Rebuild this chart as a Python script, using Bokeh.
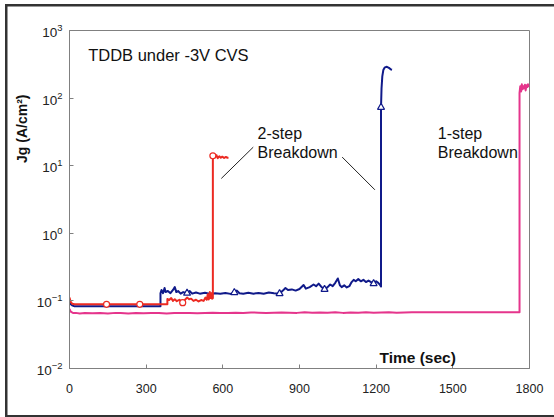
from bokeh.plotting import figure
from bokeh.models import Range1d, Label, Title
from bokeh.embed import file_html
from bokeh.resources import INLINE

# ---------------- data ----------------
x_ticks = [0, 300, 600, 900, 1200, 1500, 1800]
y_ticks = [0.01, 0.1, 1, 10, 100, 1000]

red_t = [0, 4, 10, 20, 145, 275, 383, 383, 390, 398, 405, 412, 420, 430, 443, 452, 460,
         468, 476, 485, 495, 505, 515, 525, 532, 537, 541, 545, 549, 552, 555, 558, 561,
         561, 565, 570, 575, 580, 586, 592, 598, 605, 612, 618, 622]
red_j = [0.112, 0.098, 0.091, 0.089, 0.089, 0.089, 0.089, 0.107, 0.103, 0.11, 0.1, 0.106,
         0.099, 0.104, 0.094, 0.104, 0.112, 0.106, 0.108, 0.1, 0.104, 0.098, 0.103, 0.1,
         0.112, 0.104, 0.125, 0.105, 0.135, 0.11, 0.13, 0.108, 0.11,
         14.0, 14.6, 13.4, 14.3, 12.9, 13.8, 13.1, 13.6, 13.0, 13.5, 13.1, 13.3]
red_mark_t = [145, 275, 443, 561]
red_mark_j = [0.089, 0.089, 0.094, 14.0]

blue_t = [0, 4, 10, 20, 356, 356, 360, 366, 372, 376, 385, 395, 405, 412, 418, 425, 435,
          445, 460, 470, 480, 495, 510, 530, 550, 570, 590, 610, 630, 645, 655, 665, 680,
          700, 720, 740, 760, 780, 800, 822, 835, 845, 855, 870, 885, 900, 916, 925, 940,
          955, 965, 975, 985, 998, 1010, 1020, 1030, 1040, 1050, 1058, 1065, 1075, 1085,
          1095, 1104, 1112, 1120, 1130, 1140, 1150, 1160, 1170, 1180, 1190, 1200, 1208,
          1214, 1219, 1219, 1221, 1224, 1228, 1234, 1242, 1250, 1258, 1262]
blue_j = [0.099, 0.09, 0.086, 0.083, 0.083, 0.13, 0.145, 0.13, 0.155, 0.135, 0.14, 0.13,
          0.145, 0.16, 0.135, 0.14, 0.128, 0.135, 0.13, 0.14, 0.128, 0.133, 0.128, 0.132,
          0.127, 0.13, 0.128, 0.131, 0.127, 0.133, 0.142, 0.13, 0.128, 0.132, 0.128, 0.131,
          0.128, 0.133, 0.13, 0.128, 0.142, 0.155, 0.145, 0.148, 0.142, 0.15, 0.172, 0.152,
          0.16, 0.175, 0.165, 0.18, 0.162, 0.148, 0.16, 0.175, 0.165, 0.185, 0.215, 0.17,
          0.16, 0.17, 0.158, 0.165, 0.19, 0.205, 0.195, 0.21, 0.195, 0.205, 0.19, 0.2,
          0.19, 0.18, 0.195, 0.185, 0.175, 0.163, 73.0, 140.0, 210.0, 260.0, 285.0, 290.0,
          280.0, 265.0, 262.0]
blue_mark_t = [460, 645, 822, 998, 1190, 1219]
blue_mark_j = [0.13, 0.133, 0.128, 0.148, 0.18, 73.0]

pink_t = [0, 3, 8, 15, 25, 40, 60, 90, 120, 150, 180, 200, 230, 260, 290, 320, 350, 380,
          410, 440, 470, 500, 530, 560, 590, 620, 650, 680, 710, 740, 770, 800, 830, 860,
          890, 920, 950, 980, 1010, 1040, 1070, 1100, 1130, 1160, 1190, 1220, 1250, 1280,
          1310, 1340, 1380, 1761, 1761, 1764, 1767, 1770, 1773, 1776, 1779, 1782, 1785,
          1788, 1791, 1794, 1797, 1800]
pink_j = [0.076, 0.071, 0.068, 0.066, 0.0665, 0.065, 0.066, 0.0655, 0.066, 0.065, 0.0665,
          0.066, 0.065, 0.066, 0.0655, 0.0665, 0.066, 0.065, 0.066, 0.0665, 0.066, 0.0655,
          0.0665, 0.067, 0.066, 0.0665, 0.067, 0.066, 0.0675, 0.067, 0.066, 0.067, 0.0675,
          0.067, 0.0665, 0.068, 0.067, 0.0675, 0.067, 0.068, 0.0665, 0.0675, 0.067, 0.068,
          0.067, 0.0675, 0.068, 0.067, 0.0675, 0.068, 0.068, 0.068, 120.0, 150.0, 125.0,
          160.0, 135.0, 150.0, 140.0, 158.0, 130.0, 155.0, 145.0, 160.0, 150.0, 155.0]

RED = "#ec2a22"
BLUE = "#101a8a"
PINK = "#e5358c"
FONT = "Liberation Sans"

p = figure(width=554, height=417, output_backend="svg", toolbar_location=None,
           x_range=Range1d(0, 1800), y_range=Range1d(0.01, 1000), y_axis_type="log",
           min_border_left=69, min_border_right=25, min_border_top=30, min_border_bottom=49)
p.background_fill_color = "white"
p.border_fill_color = None
p.outline_line_color = "#808080"
p.outline_line_width = 1
p.xgrid.visible = False
p.ygrid.visible = False

# outer frame of the figure (left, top and bottom edges), drawn behind the transparent border area
p.styles = {
    "background": (
        "linear-gradient(#333,#333) 5px 4px / 2.5px 413px no-repeat, "
        "linear-gradient(#333,#333) 5px 4px / 560px 2.5px no-repeat, "
        "linear-gradient(#333,#333) 5px 414.5px / 560px 2.5px no-repeat, "
        "#ffffff"
    )
}

for ax in (p.xaxis[0], p.yaxis[0]):
    ax.axis_line_color = "#808080"
    ax.major_tick_line_color = "#808080"
    ax.major_tick_in = 4
    ax.major_tick_out = 0
    ax.minor_tick_line_color = None
    ax.major_label_text_font = FONT
    ax.major_label_text_color = "#222222"
p.xaxis.ticker = x_ticks
p.yaxis.ticker = y_ticks
p.xaxis.major_label_text_font_size = "12.5px"
p.xaxis.major_label_standoff = 15
p.yaxis.major_label_text_font_size = "13.5px"
p.yaxis.major_label_standoff = 7

# y axis title as a side title, placed toward the top
p.add_layout(Title(text="Jg (A/cm\u00b2)", align="right", offset=64,
                   text_font=FONT, text_font_size="14px", text_font_style="bold",
                   text_color="#111111", standoff=8), "left")

# series
p.line(pink_t, pink_j, line_color=PINK, line_width=2, line_join="round")
p.line(blue_t, blue_j, line_color=BLUE, line_width=2, line_join="round")
p.line(red_t, red_j, line_color=RED, line_width=2, line_join="round")
p.scatter(red_mark_t, red_mark_j, marker="circle", size=6, line_color=RED,
          fill_color="white", line_width=1.2)
p.scatter(blue_mark_t, blue_mark_j, marker="triangle", size=7, line_color=BLUE,
          fill_color="white", line_width=1.2)

# annotation pointer lines
p.segment(x0=[594, 1067], y0=[6.47, 13.4], x1=[719, 1195], y1=[18.8, 4.4],
          line_color="#222222", line_width=1)

def lab(x, y, text, size="16px", bold=False):
    p.add_layout(Label(x=x, y=y, text=text, text_font=FONT, text_font_size=size,
                       text_font_style="bold" if bold else "normal", text_align="left",
                       text_baseline="alphabetic", text_color="#111111"))

lab(73, 437, "TDDB under -3V CVS", size="16.5px")
lab(736, 29.9, "2-step")
lab(736, 15.5, "Breakdown")
lab(1441, 29.9, "1-step")
lab(1441, 15.5, "Breakdown")
lab(1213, 0.0147, "Time (sec)", size="15.5px", bold=True)

open("out.html", "w").write(file_html(p, INLINE))
